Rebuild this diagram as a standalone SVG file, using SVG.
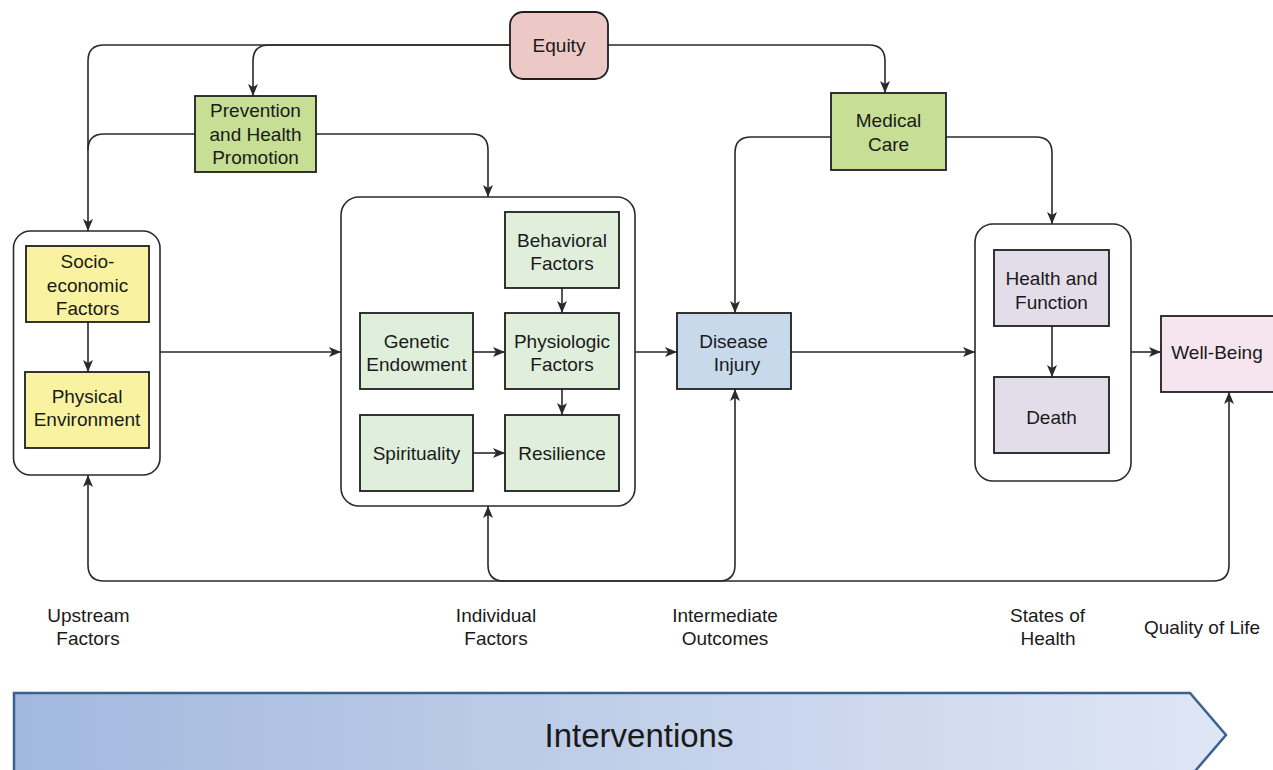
<svg xmlns="http://www.w3.org/2000/svg" width="1273" height="770" viewBox="0 0 1273 770">
  <style>
    .lbl { font-family: "Liberation Sans", Arial, Helvetica, sans-serif; font-size: 19px; fill: #1a1a1a; text-anchor: middle; }
    .box { stroke: #1f1f1f; stroke-width: 1.8; }
    .grp { fill: #ffffff; stroke: #2a2a2a; stroke-width: 1.6; }
    .wire { fill: none; stroke: #2a2a2a; stroke-width: 1.6; }
    .arrow { marker-end: url(#head); }
    .title { font-family: "Liberation Sans", Arial, Helvetica, sans-serif; font-size: 33px; fill: #1a1a1a; text-anchor: middle; }
  </style>
  <defs>
    <marker id="head" viewBox="0 0 12 10" refX="12" refY="5" markerWidth="12" markerHeight="10" markerUnits="userSpaceOnUse" orient="auto">
      <path d="M0,0 L12,5 L0,10 L3,5 Z" fill="#2a2a2a"/>
    </marker>
    <linearGradient id="band" x1="0" y1="0" x2="1" y2="0">
      <stop offset="0" stop-color="#a2b8de"/>
      <stop offset="1" stop-color="#dfe6f4"/>
    </linearGradient>
  </defs>

  <rect width="1273" height="770" fill="#ffffff"/>

  <!-- Interventions band -->
  <g id="interventions">
    <path d="M14,693 H1190 L1226,735 L1190,777 H14 Z" fill="url(#band)" stroke="#3b6190" stroke-width="2.5"/>
    <text class="title" x="639" y="747">Interventions</text>
  </g>

  <!-- Grouping containers -->
  <g id="upstream-group"><rect class="grp" x="13.5" y="231" width="146.5" height="244" rx="17"/></g>
  <g id="individual-group"><rect class="grp" x="341" y="197" width="294" height="309" rx="18"/></g>
  <g id="health-group"><rect class="grp" x="975" y="224" width="156" height="257" rx="18"/></g>

  <!-- Connectors -->
  <g id="connectors">
    <path class="wire arrow" d="M510,45 H104 Q88,45 88,61 V231"/>
    <path class="wire arrow" d="M510,45 H269 Q253,45 253,61 V96"/>
    <path class="wire" d="M195,134 H104 Q88,134 88,150"/>
    <path class="wire arrow" d="M316,134 H472 Q488,134 488,150 V197"/>
    <path class="wire arrow" d="M608,45 H869 Q885,45 885,61 V93"/>
    <path class="wire arrow" d="M831,137 H751 Q735,137 735,153 V313"/>
    <path class="wire arrow" d="M946,137 H1036 Q1052,137 1052,153 V224"/>

    <path class="wire arrow" d="M88,322 V372"/>
    <path class="wire arrow" d="M160,352 H341"/>
    <path class="wire arrow" d="M562,288 V313"/>
    <path class="wire arrow" d="M473,352 H505"/>
    <path class="wire arrow" d="M562,389 V415"/>
    <path class="wire arrow" d="M473,453 H505"/>
    <path class="wire arrow" d="M635,352 H677"/>
    <path class="wire arrow" d="M791,352 H975"/>
    <path class="wire arrow" d="M1052,326 V377"/>
    <path class="wire arrow" d="M1131,352 H1161"/>

    <!-- feedback along the bottom -->
    <path class="wire arrow" d="M600,581 H104 Q88,581 88,565 V475"/>
    <path class="wire arrow" d="M600,581 H1213 Q1229,581 1229,565 V392"/>
    <path class="wire arrow" d="M600,581 H504 Q488,581 488,565 V506"/>
    <path class="wire arrow" d="M600,581 H719 Q735,581 735,565 V389"/>
  </g>

  <!-- Nodes -->
  <g id="equity">
    <rect class="box" x="510" y="12" width="98" height="67" rx="13" fill="#ecc9c6"/>
    <text class="lbl" x="559" y="52">Equity</text>
  </g>
  <g id="prevention">
    <rect class="box" x="195" y="96" width="121" height="76" fill="#c6df94"/>
    <text class="lbl" x="255.5" y="117">Prevention</text>
    <text class="lbl" x="255.5" y="141">and Health</text>
    <text class="lbl" x="255.5" y="164">Promotion</text>
  </g>
  <g id="medical-care">
    <rect class="box" x="831" y="93" width="115" height="77" fill="#c6df94"/>
    <text class="lbl" x="888.5" y="127">Medical</text>
    <text class="lbl" x="888.5" y="151">Care</text>
  </g>
  <g id="socioeconomic">
    <rect class="box" x="26" y="246" width="123" height="76" fill="#f9f3a1"/>
    <text class="lbl" x="87.5" y="268">Socio-</text>
    <text class="lbl" x="87.5" y="292">economic</text>
    <text class="lbl" x="87.5" y="315">Factors</text>
  </g>
  <g id="physical-environment">
    <rect class="box" x="25" y="372" width="124" height="76" fill="#f9f3a1"/>
    <text class="lbl" x="87" y="403">Physical</text>
    <text class="lbl" x="87" y="426">Environment</text>
  </g>
  <g id="behavioral">
    <rect class="box" x="505" y="212" width="114" height="76" fill="#dfefdc"/>
    <text class="lbl" x="562" y="247">Behavioral</text>
    <text class="lbl" x="562" y="270">Factors</text>
  </g>
  <g id="genetic">
    <rect class="box" x="360" y="313" width="113" height="76" fill="#dfefdc"/>
    <text class="lbl" x="416.5" y="348">Genetic</text>
    <text class="lbl" x="416.5" y="371">Endowment</text>
  </g>
  <g id="physiologic">
    <rect class="box" x="505" y="313" width="114" height="76" fill="#dfefdc"/>
    <text class="lbl" x="562" y="348">Physiologic</text>
    <text class="lbl" x="562" y="371">Factors</text>
  </g>
  <g id="spirituality">
    <rect class="box" x="360" y="415" width="113" height="76" fill="#dfefdc"/>
    <text class="lbl" x="416.5" y="460">Spirituality</text>
  </g>
  <g id="resilience">
    <rect class="box" x="505" y="415" width="114" height="76" fill="#dfefdc"/>
    <text class="lbl" x="562" y="460">Resilience</text>
  </g>
  <g id="disease-injury">
    <rect class="box" x="677" y="313" width="114" height="76" fill="#c7d9eb"/>
    <text class="lbl" x="733.5" y="348">Disease</text>
    <text class="lbl" x="737" y="371">Injury</text>
  </g>
  <g id="health-function">
    <rect class="box" x="994" y="250" width="115" height="76" fill="#e2dde9"/>
    <text class="lbl" x="1051.5" y="285">Health and</text>
    <text class="lbl" x="1051.5" y="309">Function</text>
  </g>
  <g id="death">
    <rect class="box" x="994" y="377" width="115" height="76" fill="#e2dde9"/>
    <text class="lbl" x="1051.5" y="424">Death</text>
  </g>
  <g id="well-being">
    <rect class="box" x="1161" y="316" width="114" height="76" fill="#f6e5ef"/>
    <text class="lbl" x="1217" y="359">Well-Being</text>
  </g>

  <!-- Stage captions -->
  <g id="captions">
    <text class="lbl" x="88.5" y="622">Upstream</text>
    <text class="lbl" x="88" y="645">Factors</text>
    <text class="lbl" x="496" y="622">Individual</text>
    <text class="lbl" x="496" y="645">Factors</text>
    <text class="lbl" x="725" y="622">Intermediate</text>
    <text class="lbl" x="725" y="645">Outcomes</text>
    <text class="lbl" x="1047.5" y="622">States of</text>
    <text class="lbl" x="1048" y="645">Health</text>
    <text class="lbl" x="1202" y="634">Quality of Life</text>
  </g>
</svg>
